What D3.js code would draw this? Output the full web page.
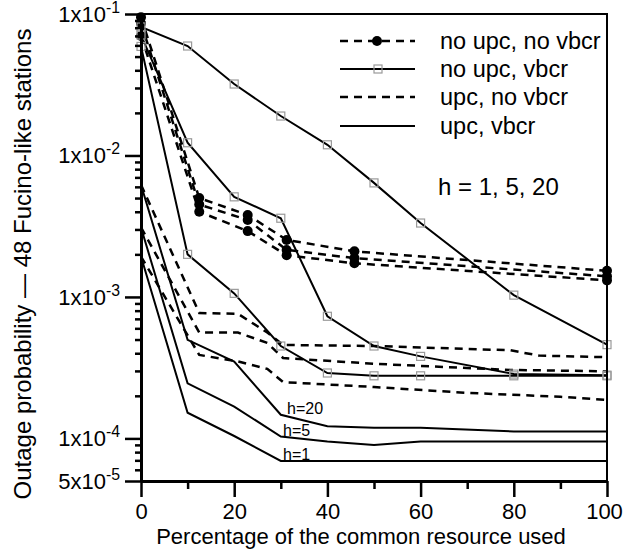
<!DOCTYPE html>
<html><head><meta charset="utf-8">
<script src="https://cdn.jsdelivr.net/npm/d3@7/dist/d3.min.js"></script>
<style>body{margin:0;background:#fff} text{font-family:"Liberation Sans",Arial,sans-serif;fill:#000}</style>
</head><body>
<svg id="chart" width="623" height="557"></svg>
<script>
// ---------- data ----------
const xMajorTicks = [0, 20, 40, 60, 80, 100];
const xMinorTicks = [10, 30, 50, 70, 90];
const yMajorTicks = [1e-1, 1e-2, 1e-3, 1e-4, 5e-5];
const yTickMantissa = ["1x10", "1x10", "1x10", "1x10", "5x10"];
const yTickExponent = ["-1", "-2", "-3", "-4", "-5"];
const legendLabels = ["no upc, no vbcr", "no upc, vbcr", "upc, no vbcr", "upc, vbcr"];
const xTitle = "Percentage of the common resource used";
const yTitle = "Outage probability \u2014 48 Fucino-like stations";
const hLabels = ["h=20", "h=5", "h=1"];
const hNote = "h = 1, 5, 20";

// no upc, no vbcr (dashed, filled circles)
const nnX = [0, 12.5, 22.9, 31.25, 45.8, 100];
const nnA = [0.095, 5.0e-3, 3.8e-3, 2.53e-3, 2.1e-3, 1.53e-3];
const nnB = [0.086, 4.5e-3, 3.5e-3, 2.15e-3, 1.88e-3, 1.40e-3];
const nnC = [0.070, 4.0e-3, 2.92e-3, 1.97e-3, 1.73e-3, 1.31e-3];

// no upc, vbcr (solid, open squares)
const nvX = [0, 10, 20, 30, 40, 50, 60, 80, 100];
const nvA = [0.081, 0.0594, 0.032, 0.019, 0.0119, 6.4e-3, 3.33e-3, 1.03e-3, 4.6e-4];
const nvB = [0.071, 0.0123, 5.1e-3, 3.6e-3, 7.3e-4, 4.5e-4, 3.8e-4, 2.85e-4, 2.8e-4];
const nvC = [0.059, 2.0e-3, 1.06e-3, 4.5e-4, 2.9e-4, 2.77e-4, 2.77e-4, 2.77e-4, 2.77e-4];

// upc, no vbcr (dashed)
const unX1 = [0, 12.5, 20.8, 27.1, 30.5, 50, 79.2, 85.4, 100];
const unA = [6.2e-3, 7.7e-4, 7.6e-4, 5.6e-4, 4.58e-4, 4.5e-4, 4.2e-4, 3.85e-4, 3.75e-4];
const unX2 = [0, 12.5, 20.8, 27.1, 30.5, 50, 79.2, 100];
const unB = [3.1e-3, 5.6e-4, 5.6e-4, 4.73e-4, 3.7e-4, 3.37e-4, 3.05e-4, 2.98e-4];
const unX3 = [0, 12.5, 20.8, 27.1, 30.5, 50, 70, 90, 100];
const unC = [1.93e-3, 3.89e-4, 3.5e-4, 3.1e-4, 2.5e-4, 2.31e-4, 2.1e-4, 1.97e-4, 1.87e-4];

// upc, vbcr (solid)
const uvX20 = [0, 10, 20, 30, 40, 50, 60, 80, 100];
const uv20 = [6.2e-3, 4.97e-4, 3.49e-4, 1.47e-4, 1.22e-4, 1.19e-4, 1.19e-4, 1.12e-4, 1.12e-4];
const uvX5 = [0, 10, 20, 30, 40, 50, 60, 100];
const uv5 = [3.1e-3, 2.45e-4, 1.68e-4, 1.03e-4, 9.5e-5, 9.0e-5, 9.5e-5, 9.5e-5];
const uvX1 = [0, 10, 20, 30, 100];
const uv1 = [1.93e-3, 1.52e-4, 1.04e-4, 6.93e-5, 6.93e-5];

// ---------- chart ----------
const svg = d3.select("#chart");
const x = d3.scaleLinear().domain([0, 100]).range([141, 607]);
const y = d3.scaleLog().domain([5e-5, 1e-1]).range([481, 14]);
const FS = 22;

const series = [
  {xs: nnX, ys: nnA, dash: "8,6", w: 2.5, marker: "circle"},
  {xs: nnX, ys: nnB, dash: "8,6", w: 2.5, marker: "circle"},
  {xs: nnX, ys: nnC, dash: "8,6", w: 2.5, marker: "circle"},
  {xs: nvX, ys: nvA, dash: null, w: 2, marker: "square"},
  {xs: nvX, ys: nvB, dash: null, w: 2, marker: "square"},
  {xs: nvX, ys: nvC, dash: null, w: 2, marker: "square"},
  {xs: unX1, ys: unA, dash: "8,6", w: 2.5, marker: null},
  {xs: unX2, ys: unB, dash: "8,6", w: 2.5, marker: null},
  {xs: unX3, ys: unC, dash: "8,6", w: 2.5, marker: null},
  {xs: uvX20, ys: uv20, dash: null, w: 2, marker: null},
  {xs: uvX5, ys: uv5, dash: null, w: 2, marker: null},
  {xs: uvX1, ys: uv1, dash: null, w: 2, marker: null}
];

svg.append("defs").append("clipPath").attr("id", "clip")
  .append("rect").attr("x", 141).attr("y", 14).attr("width", 466).attr("height", 467);

const line = d3.line().x(d => x(d[0])).y(d => y(d[1]));
const plot = svg.append("g").attr("clip-path", "url(#clip)");

series.forEach(s => {
  const pts = s.xs.map((v, i) => [v, s.ys[i]]);
  plot.append("path").datum(pts).attr("d", line)
    .attr("fill", "none").attr("stroke", "#000").attr("stroke-width", s.w)
    .attr("stroke-dasharray", s.dash);
});
const mk = svg.append("g");
series.forEach(s => {
  const pts = s.xs.map((v, i) => [v, s.ys[i]]);
  if (s.marker === "circle") {
    mk.selectAll(null).data(pts).enter().append("circle")
      .attr("cx", d => x(d[0])).attr("cy", d => y(d[1])).attr("r", 5).attr("fill", "#000");
  } else if (s.marker === "square") {
    mk.selectAll(null).data(pts).enter().append("rect")
      .attr("x", d => x(d[0]) - 4).attr("y", d => y(d[1]) - 4)
      .attr("width", 8).attr("height", 8)
      .attr("fill", "none").attr("stroke", "#9a9a9a").attr("stroke-width", 1.2);
  }
});

// frame
svg.append("line").attr("x1", 141).attr("x2", 608).attr("y1", 14).attr("y2", 14).attr("stroke", "#000").attr("stroke-width", 2);
svg.append("line").attr("x1", 607).attr("x2", 607).attr("y1", 14).attr("y2", 481).attr("stroke", "#000").attr("stroke-width", 2);

// x axis
const xAxisMaj = d3.axisBottom(x).tickValues(xMajorTicks).tickSize(16).tickSizeOuter(0).tickPadding(6).tickFormat(d3.format("d"));
const gx = svg.append("g").attr("transform", "translate(0,481)").call(xAxisMaj);
gx.select(".domain").attr("stroke-width", 3);
gx.selectAll(".tick line").attr("stroke-width", 2.5);
gx.selectAll(".tick text").attr("font-size", FS).attr("font-family", "Liberation Sans, Arial, sans-serif")
  .attr("dx", d => d === 100 ? -3 : 0);
const xAxisMin = d3.axisBottom(x).tickValues(xMinorTicks).tickSize(8).tickSizeOuter(0).tickFormat("");
const gx2 = svg.append("g").attr("transform", "translate(0,481)").call(xAxisMin);
gx2.select(".domain").remove();
gx2.selectAll(".tick line").attr("stroke-width", 2.5);

// y axis
const yMinor = y.ticks().filter(v => !yMajorTicks.some(m => Math.abs(m - v) / m < 1e-6));
const yAxisMaj = d3.axisLeft(y).tickValues(yMajorTicks).tickSize(16).tickSizeOuter(0).tickFormat("");
const gy = svg.append("g").attr("transform", "translate(141,0)").call(yAxisMaj);
gy.select(".domain").attr("stroke-width", 3);
gy.selectAll(".tick line").attr("stroke-width", 2.5);
const yAxisMin = d3.axisLeft(y).tickValues(yMinor).tickSize(6).tickSizeOuter(0).tickFormat("");
const gy2 = svg.append("g").attr("transform", "translate(141,0)").call(yAxisMin);
gy2.select(".domain").remove();
gy2.selectAll(".tick line").attr("stroke-width", 2.5);

const yl = svg.append("g").selectAll("text").data(yMajorTicks).enter().append("text")
  .attr("x", 120).attr("y", d => y(d) + 8).attr("text-anchor", "end").attr("font-size", FS);
yl.append("tspan").text((d, i) => yTickMantissa[i]);
yl.append("tspan").attr("dy", -9).attr("font-size", FS * 0.72).text((d, i) => yTickExponent[i]);

// titles
svg.append("text").attr("x", 361).attr("y", 544).attr("text-anchor", "middle").attr("font-size", FS).text(xTitle);
svg.append("text").attr("transform", "translate(31,264) rotate(-90)").attr("text-anchor", "middle").attr("font-size", 24).text(yTitle);

// legend
const legY = [41, 69, 97, 126];
const leg = svg.append("g");
legendLabels.forEach((lab, i) => {
  const s = series[i * 3];
  leg.append("line").attr("x1", 340).attr("x2", 415).attr("y1", legY[i]).attr("y2", legY[i])
    .attr("stroke", "#000").attr("stroke-width", s.w).attr("stroke-dasharray", s.dash);
  if (s.marker === "circle") leg.append("circle").attr("cx", 377).attr("cy", legY[i]).attr("r", 5).attr("fill", "#000");
  if (s.marker === "square") leg.append("rect").attr("x", 374).attr("y", legY[i] - 4).attr("width", 8).attr("height", 8)
    .attr("fill", "none").attr("stroke", "#9a9a9a").attr("stroke-width", 1.2);
  leg.append("text").attr("x", 440).attr("y", legY[i] + 8).attr("font-size", 23.5).text(lab);
});

// annotations
svg.append("text").attr("x", 438).attr("y", 195).attr("font-size", 24).text(hNote);
const hLabX = [287, 283, 283];
const hLabVals = [uv20[3], uv5[3], uv1[3]];
hLabels.forEach((t, i) => {
  svg.append("text").attr("x", hLabX[i]).attr("y", y(hLabVals[i]) - 1).attr("font-size", 16).text(t);
});
</script>
</body></html>
